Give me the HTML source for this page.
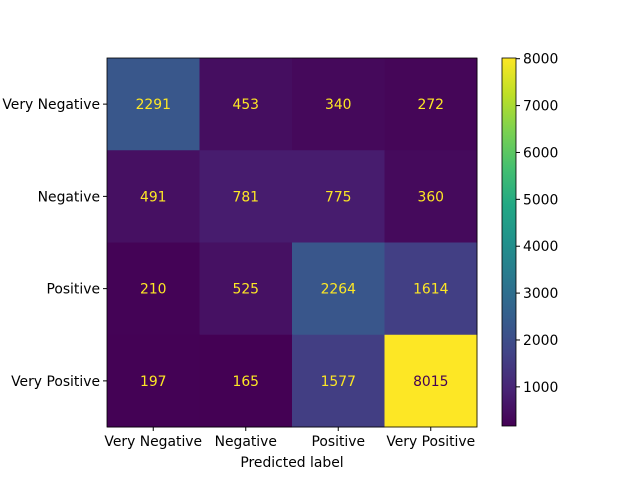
<!DOCTYPE html>
<html><head><meta charset="utf-8"><style>
body{margin:0;background:#fff;}
svg text{font-family:"DejaVu Sans","Liberation Sans",sans-serif;font-size:13.9px;}
</style></head><body>
<svg id="chart" width="640" height="480" xmlns="http://www.w3.org/2000/svg">
<defs><linearGradient id="vir" x1="0" y1="1" x2="0" y2="0">
<stop offset="0" stop-color="#440154"/><stop offset="0.1" stop-color="#482475"/><stop offset="0.2" stop-color="#414487"/><stop offset="0.3" stop-color="#355f8d"/><stop offset="0.4" stop-color="#2a788e"/><stop offset="0.5" stop-color="#21918c"/><stop offset="0.6" stop-color="#22a884"/><stop offset="0.7" stop-color="#44bf70"/><stop offset="0.8" stop-color="#7ad151"/><stop offset="0.9" stop-color="#bddf26"/><stop offset="1" stop-color="#fde725"/>
</linearGradient></defs>
</svg>
<script>
const labels=["Very Negative","Negative","Positive","Very Positive"];
const values=[[2291,453,340,272],[491,781,775,360],[210,525,2264,1614],[197,165,1577,8015]];
const cbTicks=[1000,2000,3000,4000,5000,6000,7000,8000];

const svg=document.getElementById('chart');
const NS='http://www.w3.org/2000/svg';
const stops=["#440154","#482475","#414487","#355f8d","#2a788e","#21918c","#22a884","#44bf70","#7ad151","#bddf26","#fde725"];
function hex(h){return [1,3,5].map(i=>parseInt(h.substr(i,2),16));}
function vir(t){t=Math.max(0,Math.min(1,t));const p=t*10,i=Math.min(9,Math.floor(p)),f=p-i;const a=hex(stops[i]),b=hex(stops[i+1]);return 'rgb('+a.map((v,k)=>Math.round(v+(b[k]-v)*f)).join(',')+')';}
function el(tag,attrs,text){const e=document.createElementNS(NS,tag);for(const k in attrs)e.setAttribute(k,attrs[k]);if(text!==undefined)e.textContent=text;svg.appendChild(e);return e;}
const flat=values.flat();const vmin=Math.min(...flat),vmax=Math.max(...flat);
const X0=107,Y0=58,W=370,H=369,n=labels.length,cw=W/n,ch=H/n;
const xs=i=>X0+cw*i, ys=i=>Y0+ch*i;
const thresh=(vmin+vmax)/2;
values.forEach((row,r)=>row.forEach((v,c)=>{
  const t=(v-vmin)/(vmax-vmin);
  const rc=el('rect',{x:xs(c),y:ys(r),width:cw+0.5,height:ch+0.5,fill:vir(t)});
  
  
  const tx=el('text',{x:xs(c)+cw/2,y:ys(r)+ch/2+5,'text-anchor':'middle',fill:v<thresh?'#fde725':'#440154'},String(v));
  
  
}));
const fr=el('rect',{x:X0,y:Y0,width:W,height:H,fill:'none',stroke:'#000','stroke-width':0.8});


labels.forEach((l,i)=>{
  el('line',{x1:X0,x2:X0-4,y1:ys(i)+ch/2,y2:ys(i)+ch/2,stroke:'#000'});
  const yt=el('text',{x:X0-7,y:ys(i)+ch/2+5,'text-anchor':'end'},l);
  
  
  el('line',{x1:xs(i)+cw/2,x2:xs(i)+cw/2,y1:Y0+H,y2:Y0+H+4,stroke:'#000'});
  const xt=el('text',{x:xs(i)+cw/2,y:Y0+H+19,'text-anchor':'middle'},l);
  
  
});
const xl=el('text',{x:X0+W/2,y:467,'text-anchor':'middle'},'Predicted label');


const CX=502,CW=14,CY0=58,CH=368;
const cy=v=>CY0+CH-(v-vmin)/(vmax-vmin)*CH;
const cb=el('rect',{x:CX,y:CY0,width:CW,height:CH,fill:'url(#vir)',stroke:'#000','stroke-width':0.8});


cbTicks.forEach(t=>{
  el('line',{x1:CX+CW,x2:CX+CW+4,y1:cy(t),y2:cy(t),stroke:'#000'});
  const ct=el('text',{x:CX+CW+7,y:cy(t)+5},String(t));
  
  
});
</script>
</body></html>
